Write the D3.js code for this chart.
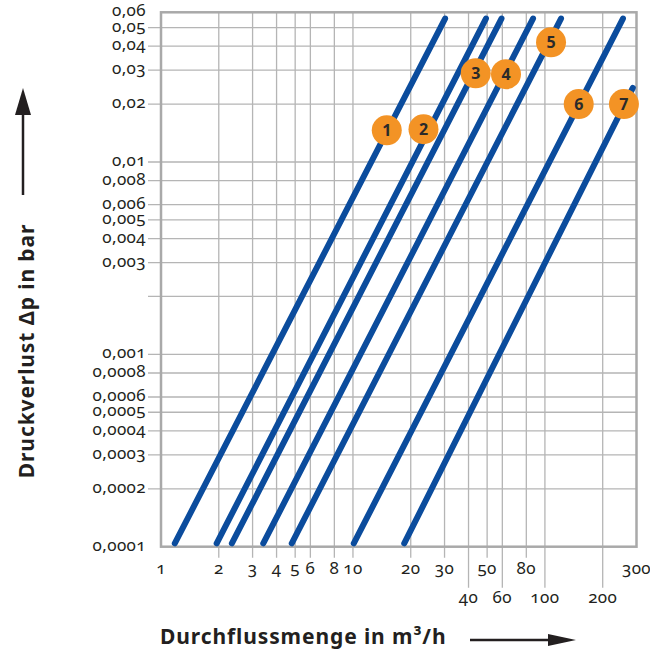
<!DOCTYPE html>
<html>
<head>
<meta charset="utf-8">
<script src="https://cdn.jsdelivr.net/npm/d3@7"></script>
<style>
  body { margin: 0; background: #fff; }
  text { font-family: "Noto Sans", "Open Sans", sans-serif; fill: #231f20; }
  .tick-label { font-size: 17px; letter-spacing: 0.4px; font-feature-settings: "onum" 1; font-variant-numeric: oldstyle-nums; }
  .title { font-size: 21px; font-weight: bold; letter-spacing: 0.9px; }
</style>
</head>
<body>
<div id="chart"></div>
<script>

var width = 650,
    height = 654

// grid values on both axes
var xTicks = [1, 2, 3, 4, 5, 6, 8, 10, 20, 30, 40, 50, 60, 80, 100, 200, 300]
var xLowRow = [40, 60, 100, 200]
var yTicks = [0.0001, 0.0002, 0.0003, 0.0004, 0.0005, 0.0006, 0.0008, 0.001, 0.002,
              0.003, 0.004, 0.005, 0.006, 0.008, 0.01, 0.02, 0.03, 0.04, 0.05, 0.06]
var yNoLabel = [0.002]

// the 7 curves (flow in m3/h at both ends, pressure loss in bar)
var curveIds = [1, 2, 3, 4, 5, 6, 7]
var qStart = [1.18, 1.95, 2.34, 3.41, 4.8, 10.1, 18.5]
var qEnd = [30.2, 49.3, 59.4, 86.7, 121.3, 255, 287]
var dpStart = [0.000104, 0.000104, 0.000104, 0.000104, 0.000104, 0.000104, 0.000104]
var dpEnd = [0.0557, 0.0557, 0.0557, 0.0557, 0.0557, 0.0557, 0.0243]

// numbered badges
var markQ = [15, 23.3, 43.6, 62.7, 107.6, 150, 258]
var markDp = [0.0146, 0.0148, 0.0289, 0.0286, 0.0419, 0.02, 0.02]

var x = d3.scaleLog().domain([1, 300]).range([161, 636.5])
var y = d3.scaleLog().domain([0.0001, 0.06]).range([546.7, 12.3])

var fmt = function(v) { return String(+v.toPrecision(3)).replace(".", ",") }

var svg = d3.select("#chart")
  .append("svg")
    .attr("width", width)
    .attr("height", height)

var grid = svg.append("g")

// horizontal grid lines with a tick to the left
grid.selectAll(".hline")
  .data(yTicks.filter(function(d) { return d != 0.0001 && d != 0.06 }))
  .enter()
  .append("line")
    .attr("x1", 148)
    .attr("x2", x(300))
    .attr("y1", function(d) { return y(d) })
    .attr("y2", function(d) { return y(d) })
    .attr("stroke", "#b5b5b5")
    .attr("stroke-width", 1.3)

// vertical grid lines with ticks below
grid.selectAll(".vline")
  .data(xTicks.filter(function(d) { return d != 1 && d != 300 }))
  .enter()
  .append("line")
    .attr("x1", function(d) { return x(d) })
    .attr("x2", function(d) { return x(d) })
    .attr("y1", y(0.06))
    .attr("y2", function(d) { return y(0.0001) + (xLowRow.indexOf(d) >= 0 ? 41 : 11) })
    .attr("stroke", "#b5b5b5")
    .attr("stroke-width", 1.3)

// frame
svg.append("rect")
  .attr("x", x(1))
  .attr("y", y(0.06))
  .attr("width", x(300) - x(1))
  .attr("height", y(0.0001) - y(0.06))
  .attr("fill", "none")
  .attr("stroke", "#a9a9a9")
  .attr("stroke-width", 2.5)

// y labels
svg.selectAll(".ylab")
  .data(yTicks.filter(function(d) { return yNoLabel.indexOf(d) < 0 }))
  .enter()
  .append("text")
    .attr("class", "tick-label")
    .attr("x", 146)
    .attr("y", function(d) { return y(d) + 4 })
    .attr("text-anchor", "end")
    .text(fmt)

// x labels
svg.selectAll(".xlab")
  .data(xTicks)
  .enter()
  .append("text")
    .attr("class", "tick-label")
    .attr("x", function(d) { return x(d) })
    .attr("y", function(d) { return xLowRow.indexOf(d) >= 0 ? 602.5 : 574 })
    .attr("text-anchor", "middle")
    .text(function(d) { return d })

// curves
svg.selectAll(".curve")
  .data(curveIds)
  .enter()
  .append("line")
    .attr("x1", function(d, i) { return x(qStart[i]) })
    .attr("y1", function(d, i) { return y(dpStart[i]) })
    .attr("x2", function(d, i) { return x(qEnd[i]) })
    .attr("y2", function(d, i) { return y(dpEnd[i]) })
    .attr("stroke", "#0b4c9d")
    .attr("stroke-width", 6)
    .attr("stroke-linecap", "round")

var badge = svg.selectAll(".badge")
  .data(curveIds)
  .enter()
  .append("g")
    .attr("transform", function(d, i) { return "translate(" + x(markQ[i]) + "," + y(markDp[i]) + ")" })

badge.append("circle")
  .attr("r", 15)
  .attr("fill", "#f39325")

badge.append("text")
  .attr("y", 6)
  .attr("text-anchor", "middle")
  .style("font-size", "16px")
  .style("font-weight", "bold")
  .style("fill", "#2a2a2a")
  .text(function(d) { return d })

// axis titles with arrows
svg.append("text")
  .attr("class", "title")
  .attr("transform", "translate(34,351) rotate(-90)")
  .attr("text-anchor", "middle")
  .text("Druckverlust Δp in bar")

svg.append("text")
  .attr("class", "title")
  .attr("x", 160)
  .attr("y", 644)
  .text("Durchflussmenge in m³/h")

svg.append("line")
  .attr("x1", 23).attr("y1", 195).attr("x2", 23).attr("y2", 112)
  .attr("stroke", "#231f20").attr("stroke-width", 2.5)
svg.append("path")
  .attr("d", "M23,88 L31,115 L15,115 Z")
  .attr("fill", "#231f20")

svg.append("line")
  .attr("x1", 470).attr("y1", 640).attr("x2", 552).attr("y2", 640)
  .attr("stroke", "#231f20").attr("stroke-width", 2.5)
svg.append("path")
  .attr("d", "M576,640 L548,634 L548,646 Z")
  .attr("fill", "#231f20")

</script>
</body>
</html>
